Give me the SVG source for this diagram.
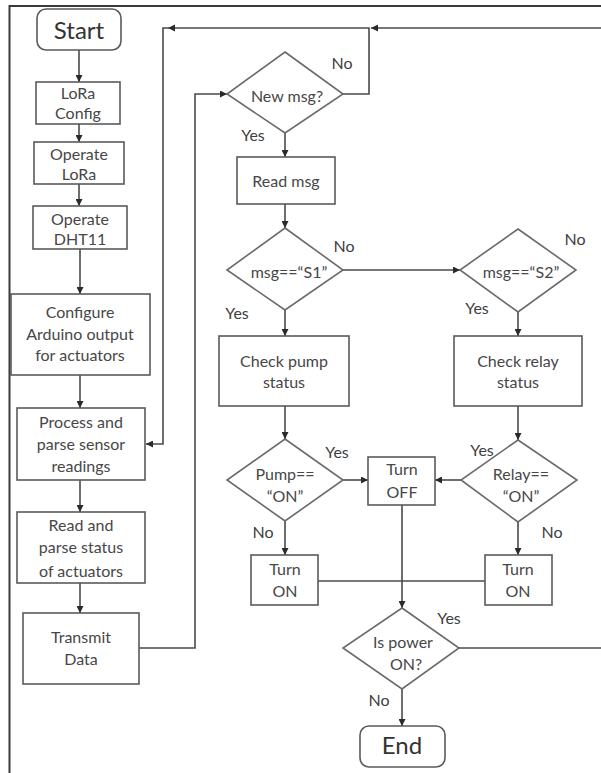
<svg xmlns="http://www.w3.org/2000/svg" width="601" height="773" viewBox="0 0 601 773">
  <style>
    .box { fill: #ffffff; stroke: #5a5a5a; stroke-width: 1.6; }
    .term { fill: #ffffff; stroke: #5a5a5a; stroke-width: 1.6; }
    .dia { fill: #ffffff; stroke: #6a6a6a; stroke-width: 1.6; }
    .frame { fill: none; stroke: #3a3a3a; stroke-width: 2; }
    .con { fill: none; stroke: #4a4a4a; stroke-width: 1.6; }
    .ah { fill: #2a2a2a; }
    text { font-family: Lato, "Liberation Sans", sans-serif; font-size: 16px; fill: #474747; text-anchor: middle; }
    .big { font-size: 24px; fill: #333333; }
    .lbl { font-size: 16px; fill: #404040; }
  </style>
  <defs>
    <marker id="arrow" viewBox="0 0 10 10" refX="10" refY="5" markerWidth="7" markerHeight="7" markerUnits="userSpaceOnUse" orient="auto">
      <path d="M0,0 L10,5 L0,10 Z" fill="#2a2a2a"/>
    </marker>
  </defs>

  <rect width="601" height="773" fill="#ffffff"/>
  <!-- outer frame: top and left edges only -->
  <path class="frame" d="M601,6 H9.5 V773"/>

  <g id="connectors">
    <!-- left column -->
    <path class="con" d="M79,50 V82" marker-end="url(#arrow)"/>
    <path class="con" d="M79,124 V142" marker-end="url(#arrow)"/>
    <path class="con" d="M79,184 V206" marker-end="url(#arrow)"/>
    <path class="con" d="M80,249 V294" marker-end="url(#arrow)"/>
    <path class="con" d="M80,375 V408" marker-end="url(#arrow)"/>
    <path class="con" d="M80,480 V512" marker-end="url(#arrow)"/>
    <path class="con" d="M80,583 V613" marker-end="url(#arrow)"/>
    <!-- transmit to message check -->
    <path class="con" d="M139,648 H195 V94 H227" marker-end="url(#arrow)"/>
    <!-- return loop along the top -->
    <path class="con" d="M601,28 H371" marker-end="url(#arrow)"/>
    <path class="con" d="M343,94 H369 V28 H163 V444 H146" marker-end="url(#arrow)"/>
    <polygon class="ah" points="168,28 175,24.5 175,31.5"/>
    <!-- centre column -->
    <path class="con" d="M285,133 V157" marker-end="url(#arrow)"/>
    <path class="con" d="M285,204 V228" marker-end="url(#arrow)"/>
    <path class="con" d="M343,270 H460" marker-end="url(#arrow)"/>
    <path class="con" d="M285,310 V336" marker-end="url(#arrow)"/>
    <path class="con" d="M518,312 V336" marker-end="url(#arrow)"/>
    <path class="con" d="M285,406 V439" marker-end="url(#arrow)"/>
    <path class="con" d="M518,406 V440" marker-end="url(#arrow)"/>
    <path class="con" d="M343,480 H368" marker-end="url(#arrow)"/>
    <path class="con" d="M461,480 H435" marker-end="url(#arrow)"/>
    <path class="con" d="M285,521 V555" marker-end="url(#arrow)"/>
    <path class="con" d="M518,522 V555" marker-end="url(#arrow)"/>
    <path class="con" d="M318,581 H485"/>
    <path class="con" d="M402,505 V608" marker-end="url(#arrow)"/>
    <path class="con" d="M459,648 H601"/>
    <path class="con" d="M402,689 V726" marker-end="url(#arrow)"/>
  </g>

  <g id="start">
    <rect class="term" x="37" y="9" width="84" height="41" rx="9"/>
    <text class="big" x="79" y="39">Start</text>
  </g>
  <g id="lora-config">
    <rect class="box" x="36" y="82" width="84" height="42"/>
    <text x="78" y="99">LoRa</text>
    <text x="78" y="119">Config</text>
  </g>
  <g id="operate-lora">
    <rect class="box" x="34" y="142" width="90" height="42"/>
    <text x="79" y="160">Operate</text>
    <text x="79" y="180">LoRa</text>
  </g>
  <g id="operate-dht11">
    <rect class="box" x="33" y="206" width="94" height="43"/>
    <text x="80" y="225">Operate</text>
    <text x="80" y="245">DHT11</text>
  </g>
  <g id="configure-output">
    <rect class="box" x="11" y="294" width="139" height="81"/>
    <text x="80" y="318">Configure</text>
    <text x="80" y="340">Arduino output</text>
    <text x="80" y="361">for actuators</text>
  </g>
  <g id="process-readings">
    <rect class="box" x="17" y="408" width="128" height="72"/>
    <text x="81" y="428">Process and</text>
    <text x="81" y="450">parse sensor</text>
    <text x="81" y="472">readings</text>
  </g>
  <g id="read-status">
    <rect class="box" x="17" y="512" width="128" height="71"/>
    <text x="81" y="531">Read and</text>
    <text x="81" y="553">parse status</text>
    <text x="81" y="577">of actuators</text>
  </g>
  <g id="transmit-data">
    <rect class="box" x="23" y="613" width="116" height="71"/>
    <text x="81" y="643">Transmit</text>
    <text x="81" y="665">Data</text>
  </g>

  <g id="new-msg">
    <polygon class="dia" points="285,52 343,94 285,133 227,94"/>
    <text x="287" y="102">New msg?</text>
    <text class="lbl" x="342" y="69">No</text>
    <text class="lbl" x="253" y="141">Yes</text>
  </g>
  <g id="read-msg">
    <rect class="box" x="237" y="157" width="98" height="47"/>
    <text x="286" y="187">Read msg</text>
  </g>
  <g id="msg-s1">
    <polygon class="dia" points="285,228 343,270 285,310 227,270"/>
    <text x="289" y="278">msg==“S1”</text>
    <text class="lbl" x="344" y="252">No</text>
    <text class="lbl" x="237" y="319">Yes</text>
  </g>
  <g id="msg-s2">
    <polygon class="dia" points="518,229 576,270 518,312 460,270"/>
    <text x="521" y="278">msg==“S2”</text>
    <text class="lbl" x="575" y="245">No</text>
    <text class="lbl" x="477" y="314">Yes</text>
  </g>
  <g id="check-pump">
    <rect class="box" x="219" y="336" width="130" height="70"/>
    <text x="284" y="367">Check pump</text>
    <text x="284" y="388">status</text>
  </g>
  <g id="check-relay">
    <rect class="box" x="454" y="336" width="128" height="70"/>
    <text x="518" y="367">Check relay</text>
    <text x="518" y="388">status</text>
  </g>
  <g id="pump-on">
    <polygon class="dia" points="285,439 343,480 285,521 227,480"/>
    <text x="285" y="480">Pump==</text>
    <text x="285" y="502">“ON”</text>
    <text class="lbl" x="337" y="458">Yes</text>
    <text class="lbl" x="263" y="538">No</text>
  </g>
  <g id="turn-off">
    <rect class="box" x="368" y="457" width="67" height="48"/>
    <text x="402" y="475">Turn</text>
    <text x="402" y="498">OFF</text>
  </g>
  <g id="relay-on">
    <polygon class="dia" points="518,440 577,480 518,522 461,480"/>
    <text x="521" y="480">Relay==</text>
    <text x="521" y="502">“ON”</text>
    <text class="lbl" x="482" y="456">Yes</text>
    <text class="lbl" x="552" y="538">No</text>
  </g>
  <g id="turn-on-pump">
    <rect class="box" x="251" y="555" width="67" height="50"/>
    <text x="285" y="575">Turn</text>
    <text x="285" y="597">ON</text>
  </g>
  <g id="turn-on-relay">
    <rect class="box" x="485" y="555" width="67" height="50"/>
    <text x="518" y="575">Turn</text>
    <text x="518" y="597">ON</text>
  </g>
  <g id="power-on">
    <polygon class="dia" points="402,608 459,648 402,689 343,648"/>
    <text x="403" y="648">Is power</text>
    <text x="406" y="670">ON?</text>
    <text class="lbl" x="449" y="624">Yes</text>
    <text class="lbl" x="379" y="706">No</text>
  </g>
  <g id="end">
    <rect class="term" x="360" y="726" width="85" height="41" rx="9"/>
    <text class="big" x="402" y="754">End</text>
  </g>
</svg>
